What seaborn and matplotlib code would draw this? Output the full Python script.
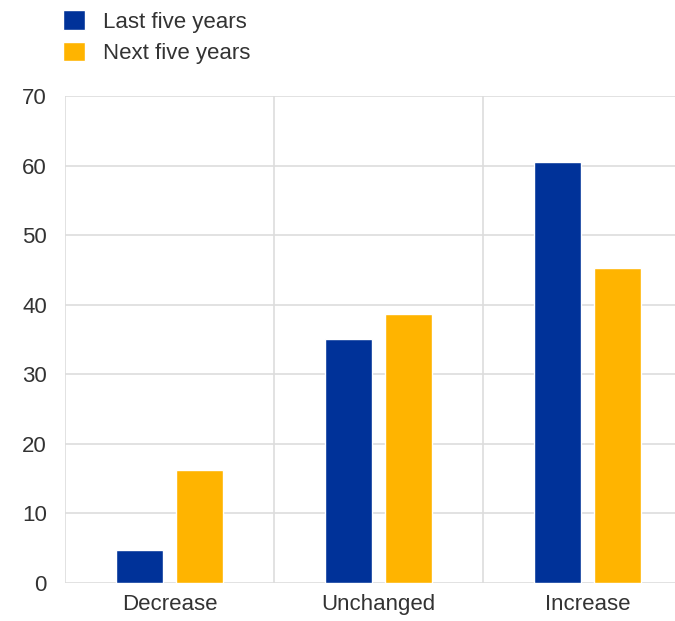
import pandas as pd
import numpy as np
import matplotlib.pyplot as plt
import seaborn as sns
from matplotlib.ticker import FixedLocator

categories = ['Decrease', 'Unchanged', 'Increase']
series = ['Last five years', 'Next five years']
last_five = [4.7, 35.1, 60.5]
next_five = [16.2, 38.7, 45.3]
colores = ['#003299', '#FFB400']

df = pd.DataFrame({
    'categoria': categories * 2,
    'serie': [series[0]] * 3 + [series[1]] * 3,
    'valor': last_five + next_five,
})

sns.set_style('white')
plt.rcParams['font.family'] = ['Liberation Sans', 'DejaVu Sans']
plt.rcParams['text.color'] = '#333333'

fig = plt.figure(figsize=(6.75, 6.21), dpi=100)
# axes run past the right edge, like the cropped original
ax = fig.add_axes([65 / 675, 38 / 621, 627 / 675, 487 / 621])

sns.barplot(data=df, x='categoria', y='valor', hue='serie', order=categories,
            hue_order=series, palette=colores, width=0.58, gap=0.22,
            saturation=1, ax=ax, legend=True)

ax.set_xlim(-0.5, 2.5)
ax.set_ylim(0, 70)
ax.set_yticks(np.arange(0, 71, 10))
ax.xaxis.set_minor_locator(FixedLocator([-0.5, 0.5, 1.5, 2.5]))
ax.grid(axis='y', color='#dddddd', linewidth=1.2)
ax.grid(axis='x', which='minor', color='#dddddd', linewidth=1.2)
ax.set_axisbelow(True)
for s in ax.spines.values():
    s.set_visible(False)
ax.tick_params(axis='both', which='both', length=0, labelsize=16, colors='#333333')
ax.tick_params(axis='y', pad=13)
ax.tick_params(axis='x', pad=8)
ax.set_xlabel('')
ax.set_ylabel('')

h, l = ax.get_legend_handles_labels()
ax.get_legend().remove()
fig.legend(h, l, loc='upper left', bbox_to_anchor=(59 / 675, 1 - 6 / 621),
           frameon=False, fontsize=16, handlelength=0.95, handleheight=0.95,
           handletextpad=0.85, labelspacing=0.42, borderaxespad=0,
           borderpad=0.2)

fig.savefig('out.png', dpi=100)
